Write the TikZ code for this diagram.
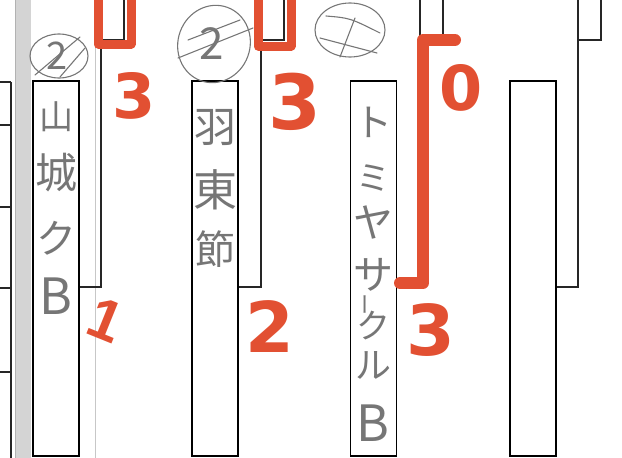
\documentclass[tikz,border=0pt]{standalone}
\usepackage{fontspec}
\newfontfamily\jpfont{Noto Sans CJK JP}
\newfontfamily\markfont{DejaVu Sans}
\newfontfamily\onefont{Liberation Sans}
\usetikzlibrary{positioning}
\definecolor{redpen}{RGB}{226,80,50}
\definecolor{pencil}{RGB}{118,118,118}

\begin{document}
\begin{tikzpicture}[
  x=1pt, y=-1pt,
  teambox/.style={draw, line width=1.6pt, minimum width=46pt, minimum height=375pt, inner sep=0pt},
  bracket/.style={draw=black!85, line width=1.1pt},
  redline/.style={draw=redpen, line width=9pt, line cap=round, line join=round},
  score/.style={text=redpen, font=\markfont\bfseries\fontsize{#1}{#1}\selectfont, inner sep=0pt},
  teamname/.style={text=pencil, font=\jpfont\fontsize{#1}{#1}\selectfont, inner sep=0pt},
  seed/.style={draw=pencil, line width=1.1pt, line cap=round}
]

% Page (in pixels of the scan)
\useasboundingbox (0,0) rectangle (622,458);
\clip (0,0) rectangle (622,458);

% --- Fold of the scan ---
\fill[black!17] (15,0) rectangle (31,458);
\draw[black!30, line width=0.6pt] (15,0) -- (15,458);
\draw[black!22, line width=0.7pt] (95,0) -- (95,458);

% --- Left edge of the next block ---
\draw[bracket, line width=1.5pt] (11,458) -- (11,82);
\foreach \y in {82,125,207,288,372}
  \draw[bracket] (0,\y) -- (11,\y);

% --- Team boxes ---
\node[teambox] (yamashiro) at (56,268.5) {};
\node[teambox] (hatsuto)   at (215,268.5) {};
\node[teambox] (tomiya)    at (373.5,268.5) {};
\node[teambox] (blank)     at (533,268.5) {};

% --- Brackets up to the boxes above ---
\foreach \b/\x in {yamashiro/101, hatsuto/261, tomiya/420, blank/578} {
  \coordinate (k-\b) at (\x,287);
  \draw[bracket] (\b.east |- k-\b) -- (k-\b) -- (\x,0);
  \draw[bracket] (\x,40) -- ++(23,0) -- ++(0,-40);
}

% --- Names (pencil, vertical) ---
\foreach \c/\y/\s [count=\i] in {山/117/34, 城/173/42, ク/238/40, B/296/50}
  \node[teamname=\s] (yama-\i) at (56,\y) {\c};
\foreach \c/\y/\s [count=\i] in {羽/128/42, 東/190/44, 節/249/40}
  \node[teamname=\s] (hatsu-\i) at (215,\y) {\c};
\foreach \c/\y/\s [count=\i] in {ト/122/38, ミ/178/34, ヤ/222/40, サ/275/40, ク/326/34, ル/365/36, B/423/50}
  \node[teamname=\s] (tomi-\i) at (373,\y) {\c};
\node[teamname=22, rotate=90] (tomi-bar) at (369,304) {ー};

% --- Seed marks (crossed out) ---
\draw[seed] (59,56) ellipse [x radius=29, y radius=22];
\node[teamname=38] (seed-1) at (57,56) {2};
\draw[seed] (35,75) -- (80,37);
\draw[seed] (60,77) -- (85,48);

\draw[seed, rotate around={-20:(214,44)}] (214,44) ellipse [x radius=36, y radius=39];
\node[teamname=44] (seed-2) at (212,44) {2};
\draw[seed] (178,58) -- (253,28);
\draw[seed] (188,40) -- (240,20);

\draw[seed] (350,30) ellipse [x radius=35, y radius=27];
\draw[seed] (326,16) .. controls (350,18) .. (380,33);
\draw[seed] (320,38) -- (377,53);
\draw[seed] (355,18) -- (340,57);

% --- Results (red marker) ---
\draw[redline] (98,0) -- (98,44) -- (131,44) -- (131,0);
\draw[redline] (258,0) -- (258,46) -- (291,46) -- (291,0);
\draw[redline, line width=12pt] (455,40) -- (423,40) -- (423,283) -- (400,283);

\node[score=62] (sc-1a) at (134,96) {3};
\node[score=76] (sc-2a) at (295,102) {3};
\node[score=62] (sc-3a) at (461,88) {0};
\node[score=58, font=\onefont\bfseries\fontsize{58}{58}\selectfont, rotate=-22] (sc-1b) at (106,320) {1};
\node[score=70] (sc-2b) at (270,327) {2};
\node[score=70] (sc-3b) at (431,330) {3};

\end{tikzpicture}
\end{document}
